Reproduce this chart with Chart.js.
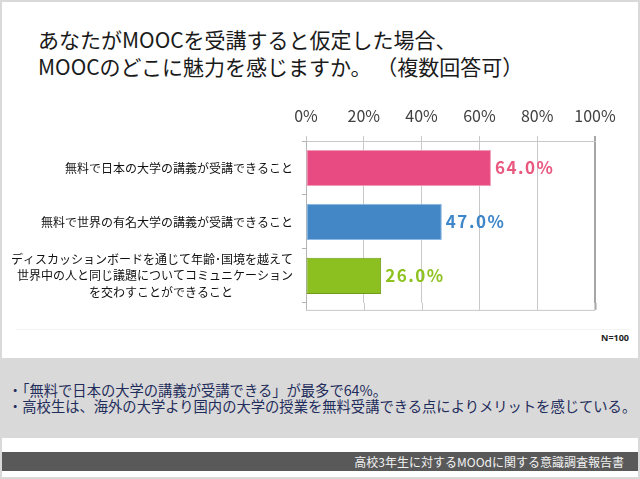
<!DOCTYPE html>
<html lang="ja">
<head>
<meta charset="utf-8">
<script src="https://cdn.jsdelivr.net/npm/chart.js@4/dist/chart.umd.min.js"></script>
<style>
    html, body { margin: 0; padding: 0; background: #fff; }
    #page {
        position: relative; width: 640px; height: 479px; overflow: hidden;
        box-sizing: border-box; border: 2px solid #d9d9d9; background: #fff;
        font-family: "Noto Sans CJK JP", "Noto Sans", sans-serif;
    }
    .title {
        position: absolute; left: 36px; top: 24px;
        font-size: 21px; line-height: 27px; color: #1a1a1a; white-space: nowrap;
    }
    #chart-wrap { position: absolute; left: -2px; top: 88px; width: 640px; height: 230px; }
    .note-n {
        position: absolute; right: 9px; top: 329px;
        font-size: 9px; font-weight: bold; color: #222; font-family: "Noto Sans", sans-serif;
    }
    .rule { position: absolute; left: 14px; right: 8px; top: 327px; height: 1px; background: #f3f3f3; }
    .summary {
        position: absolute; left: 0; right: 0; top: 356px; height: 80px; background: #d9d9d9;
    }
    .summary p {
        margin: 0; position: absolute; left: 6px; top: 24px;
        font-size: 14.3px; line-height: 16px; color: #1f2d5c; white-space: nowrap;
    }
    .footer {
        position: absolute; left: 0; right: 0; top: 450px; height: 19px; background: #595959;
        color: #f2f2f2; font-size: 12px; line-height: 19px; text-align: right;
        padding-right: 14px; box-sizing: border-box; white-space: nowrap;
    }
</style>
</head>
<body>
<div id="page">
    <div class="title">あなたがMOOCを受講すると仮定した場合、<br>MOOCのどこに魅力を感じますか。 （複数回答可）</div>
    <div id="chart-wrap"><canvas id="bar-chart" width="640" height="230"></canvas></div>
    <div class="rule"></div>
    <div class="note-n">N=100</div>
    <div class="summary">
        <p>・「無料で日本の大学の講義が受講できる」が最多で64%。<br>・高校生は、海外の大学より国内の大学の授業を無料受講できる点によりメリットを感じている。</p>
    </div>
    <div class="footer">高校3年生に対するMOOdに関する意識調査報告書</div>
</div>

<script>
    // Data
    var categories = [
        "無料で日本の大学の講義が受講できること",
        "無料で世界の有名大学の講義が受講できること",
        ["ディスカッションボードを通じて年齢･国境を越えて",
         "世界中の人と同じ議題についてコミュニケーション",
         "を交わすことができること　　　　　"]
    ];
    var values = [64.0, 47.0, 26.0];
    var xTicks = [0, 20, 40, 60, 80, 100];

    var barColors = ["#e84a82", "#4387c7", "#8cc021"];
    var edgeColors = ["#f29bb8", "#8fb9e2", "#6f9a1a"];
    var labelColors = ["#e9587f", "#3d86c9", "#8dc21f"];
    var jpFont = '"Noto Sans CJK JP", "Noto Sans", sans-serif';


    // Value labels at the end of each bar
    var valueLabels = {
        id: "valueLabels",
        afterDatasetsDraw: function (chart) {
            var ctx = chart.ctx;
            var meta = chart.getDatasetMeta(0);
            ctx.save();
            ctx.font = "bold 17px " + jpFont;
            ctx.textBaseline = "middle";
            ctx.textAlign = "left";
            if ("letterSpacing" in ctx) ctx.letterSpacing = "1.5px";
            meta.data.forEach(function (bar, i) {
                ctx.fillStyle = labelColors[i];
                ctx.fillText(values[i].toFixed(1) + "%", bar.x + 4, bar.y);
            });
            ctx.restore();
        }
    };

    // The plot frame runs a few pixels below the last category
    var frameBottom = {
        id: "frameBottom",
        afterDraw: function (chart) {
            var ctx = chart.ctx;
            var area = chart.chartArea;
            var xs = chart.scales.x;
            var ext = 7;
            ctx.save();
            xTicks.forEach(function (v) {
                var px = Math.round(xs.getPixelForValue(v)) + 0.5;
                ctx.strokeStyle = v === 100 ? "#a6a6a6" : (v === 0 ? "#b4b4b4" : "#c8c8c8");
                ctx.lineWidth = v === 100 ? 2 : 1;
                ctx.beginPath();
                ctx.moveTo(px, area.bottom);
                ctx.lineTo(px, area.bottom + ext);
                ctx.stroke();
            });
            ctx.strokeStyle = "#c8c8c8";
            ctx.lineWidth = 1;
            ctx.beginPath();
            ctx.moveTo(area.left, area.bottom + ext + 0.5);
            ctx.lineTo(area.right, area.bottom + ext + 0.5);
            ctx.stroke();
            ctx.restore();
        }
    };


    // Bar chart
    var ctx1 = document.getElementById("bar-chart").getContext("2d");
    var myChart1 = new Chart(ctx1, {
        type: "bar",
        data: {
            labels: categories,
            datasets: [{
                data: values,
                backgroundColor: barColors,
                borderColor: edgeColors,
                borderWidth: 1,
                borderSkipped: false,
                categoryPercentage: 1,
                barPercentage: 0.67
            }]
        },
        options: {
            indexAxis: "y",
            responsive: false,
            animation: false,
            layout: { padding: { left: 0, right: 45, top: 0, bottom: 17 } },
            plugins: {
                legend: { display: false },
                tooltip: { enabled: false }
            },
            scales: {
                x: {
                    position: "top",
                    min: 0,
                    max: 100,
                    afterFit: function (scale) { scale.height = 51; },
                    afterBuildTicks: function (scale) {
                        scale.ticks = xTicks.map(function (v) { return { value: v }; });
                    },
                    ticks: {
                        padding: 10,
                        color: "#404040",
                        font: { family: jpFont, size: 16 },
                        callback: function (v) { return v + "%"; }
                    },
                    grid: {
                        tickLength: 5,
                        color: function (c) {
                            if (c.tick && c.tick.value === 100) return "#a6a6a6";
                            return "#c8c8c8";
                        },
                        lineWidth: function (c) {
                            return c.tick && c.tick.value === 100 ? 2 : 1;
                        }
                    },
                    border: { display: true, color: "#c8c8c8" }
                },
                y: {
                    afterFit: function (scale) { scale.width = 306; },
                    ticks: {
                        padding: 9,
                        color: "#111111",
                        font: { family: jpFont, size: 12, lineHeight: 1.35 }
                    },
                    grid: {
                        drawOnChartArea: false,
                        tickLength: 4,
                        color: "#b4b4b4"
                    },
                    border: { display: true, color: "#b4b4b4" }
                }
            }
        },
        plugins: [valueLabels, frameBottom]
    });
</script>
</body>
</html>
